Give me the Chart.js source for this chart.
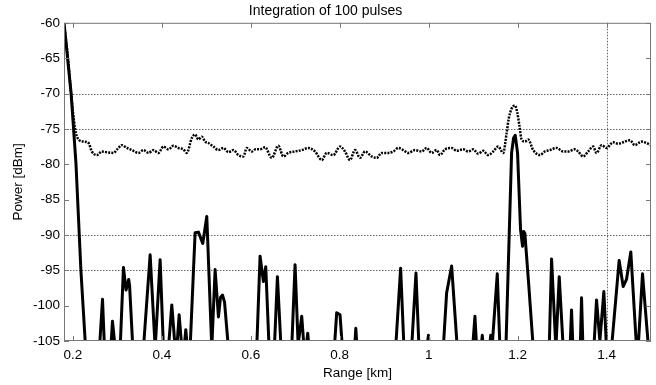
<!DOCTYPE html>
<html>
<head>
<meta charset="utf-8">
<script src="https://cdn.jsdelivr.net/npm/chart.js@4"></script>
<style>
  html, body { margin: 0; padding: 0; background: #fff; }
  #wrap { width: 656px; height: 385px; }
</style>
</head>
<body>
<div id="wrap"><canvas id="pulseChart"></canvas></div>
<script>
// single pulse (solid) - values below -105 run off the bottom of the plot
const pulseX = [0.18, 0.196, 0.207, 0.218, 0.2276, 0.232,
  0.2598, 0.2666, 0.271, 0.2854, 0.289, 0.295,
  0.3063, 0.3137, 0.3195, 0.3255, 0.3275, 0.3348,
  0.3587, 0.3737, 0.385, 0.3962, 0.4036,
  0.4149, 0.4224, 0.430, 0.4337, 0.4389, 0.445, 0.4501, 0.4539, 0.4575,
  0.4636, 0.4748, 0.4823, 0.492, 0.5011, 0.5123,
  0.5198, 0.5273, 0.532, 0.5365, 0.541, 0.5497,
  0.6134, 0.6209, 0.6284, 0.6337, 0.6412,
  0.6531, 0.6599, 0.6681,
  0.6921, 0.6996, 0.7065, 0.7146, 0.7198, 0.7243, 0.7281, 0.731,
  0.788, 0.7932, 0.8007, 0.806, 0.8335, 0.8362, 0.839,
  0.9258, 0.937, 0.9445, 0.9617, 0.9715, 0.9783, 0.996, 0.9995, 1.002,
  1.0329, 1.0404, 1.0517, 1.0644,
  1.0988, 1.1041, 1.108, 1.118, 1.1206, 1.123,
  1.137, 1.1395, 1.1425, 1.1543, 1.1603,
  1.1737, 1.1865, 1.1910, 1.1947, 1.1999, 1.2067, 1.2112, 1.2135, 1.2164, 1.225, 1.2352,
  1.2711, 1.2764, 1.2861, 1.2936, 1.3026,
  1.318, 1.3213, 1.3245, 1.341, 1.3438, 1.347,
  1.3715, 1.3775, 1.385, 1.394, 1.3999,
  1.4112, 1.4284, 1.4374, 1.4449, 1.4546, 1.4675,
  1.4711, 1.4809, 1.4944, 1.5];
const pulseY = [-60, -70, -80, -95, -105, -106.5,
  -106, -99.1, -106, -106, -102.2, -106,
  -106, -94.6, -97.8, -96.3, -97.2, -106,
  -106, -92.8, -106, -93.5, -106,
  -106, -99.9, -106, -106, -101.3, -106, -106, -103.4, -106,
  -106, -89.7, -89.6, -91.2, -87.4, -106,
  -94.9, -101.6, -98.8, -98.5, -99.5, -106,
  -106, -93.0, -96.6, -94.5, -106,
  -106, -95.9, -106,
  -106, -94.2, -105.5, -101.5, -106, -106, -103.9, -106,
  -106, -101.0, -101.3, -106, -106, -103.2, -106,
  -106, -94.7, -106, -106, -95.4, -106, -106, -104.2, -106,
  -106, -98.2, -94.4, -106,
  -106, -101.5, -106, -106, -104.2, -106,
  -106, -104.2, -106, -95.5, -106,
  -106, -78.4, -76.3, -75.9, -78.4, -89.3, -91.6, -89.5, -89.8, -97, -106,
  -106, -93.4, -106, -95.9, -106,
  -106, -100.6, -106, -106, -98.9, -106,
  -106, -99.2, -105, -98.0, -106,
  -106, -93.6, -97.3, -96.3, -92.4, -106,
  -106, -95.5, -106, -106];

// integration of 100 pulses (dotted)
const integX = [0.18, 0.189, 0.196, 0.205, 0.2126, 0.2238, 0.235, 0.2427, 0.254, 0.265,
  0.2764, 0.291, 0.3025, 0.310, 0.3213, 0.3326, 0.3474, 0.3587, 0.370, 0.381,
  0.3924, 0.4036, 0.4148, 0.426, 0.4373, 0.4485, 0.456, 0.4674, 0.4748, 0.4822,
  0.490, 0.4973, 0.5047, 0.516, 0.527, 0.5384, 0.5497, 0.561, 0.572, 0.5834,
  0.591, 0.6022, 0.611, 0.6207, 0.632, 0.6472, 0.662, 0.6733, 0.6845, 0.6996,
  0.7146, 0.7294, 0.7445, 0.7596, 0.7708, 0.7856, 0.8007, 0.8119, 0.8231, 0.8344,
  0.8456, 0.8569, 0.8719, 0.8831, 0.8944, 0.9092, 0.9204, 0.9317, 0.9429, 0.9542,
  0.9692, 0.9843, 0.9955, 1.0067, 1.018, 1.0254, 1.0367, 1.0517, 1.0629, 1.0778,
  1.089, 1.1002, 1.1115, 1.1227, 1.1339, 1.1452, 1.1564, 1.1676, 1.1753, 1.18,
  1.186, 1.194, 1.199, 1.204, 1.209, 1.2164, 1.2238, 1.2351, 1.2501, 1.2614,
  1.2726, 1.2876, 1.3025, 1.3137, 1.3288, 1.3362, 1.3474, 1.3586, 1.3699, 1.3775,
  1.3888, 1.4, 1.4148, 1.4261, 1.4373, 1.4524, 1.4636, 1.4787, 1.4899, 1.5];
const integY = [-60, -65, -70, -75, -76.5, -76.8, -77.0, -78.2, -78.7, -78.2,
  -78.3, -78.4, -77.7, -77.3, -77.7, -78.0, -78.4, -78.0, -78.4, -78.0,
  -78.4, -77.5, -77.9, -77.4, -77.7, -77.9, -78.4, -76.3, -75.8, -76.5,
  -76.1, -76.8, -77.0, -77.5, -78.0, -77.7, -78.3, -78.0, -78.7, -78.9,
  -77.7, -78.2, -77.9, -77.9, -77.6, -79.1, -77.4, -78.9, -78.4, -78.2,
  -78.0, -77.7, -78.2, -79.4, -78.4, -78.7, -77.5, -78.2, -79.4, -78.0,
  -79.1, -78.2, -78.9, -79.1, -78.4, -78.4, -78.2, -77.7, -78.0, -78.4,
  -78.0, -78.2, -77.7, -78.4, -78.0, -78.7, -77.9, -77.7, -78.1, -77.9,
  -78.2, -77.9, -78.5, -78.1, -78.7, -78.2, -77.5, -78.4, -75.6, -73.6,
  -72.2, -71.7, -72.6, -74.5, -76.5, -76.8, -76.5, -78.0, -78.7, -78.2,
  -78.0, -77.7, -78.2, -78.2, -77.9, -78.2, -78.9, -78.2, -77.5, -78.4,
  -77.3, -77.7, -76.9, -77.1, -76.9, -76.6, -77.3, -76.8, -77.0, -77.3];

const xTicks = [0.2, 0.4, 0.6, 0.8, 1.0, 1.2, 1.4];
const yTicks = [-105, -100, -95, -90, -85, -80, -75, -70, -65, -60];
const gridX = [1.4];
const gridY = [-95, -90, -75, -70];

const FONT = "'Liberation Sans', Arial, sans-serif";

// MATLAB style frame: box, inward ticks on all sides, a few dotted grid lines
const framePlugin = {
  id: "frame",
  beforeDatasetsDraw(chart) {
    const { ctx, chartArea: a, scales } = chart;
    ctx.save();
    ctx.strokeStyle = "#666";
    ctx.lineWidth = 1;
    ctx.setLineDash([1.5, 1.5]);
    gridY.forEach((v) => {
      const y = Math.round(scales.y.getPixelForValue(v)) + 0.5;
      ctx.beginPath();
      ctx.moveTo(a.left, y);
      ctx.lineTo(a.right, y);
      ctx.stroke();
    });
    gridX.forEach((v) => {
      const x = Math.round(scales.x.getPixelForValue(v)) + 0.5;
      ctx.beginPath();
      ctx.moveTo(x, a.top);
      ctx.lineTo(x, a.bottom);
      ctx.stroke();
    });
    ctx.restore();
  },
  afterDraw(chart) {
    const { ctx, chartArea: a, scales } = chart;
    const len = 5;
    ctx.save();
    ctx.strokeStyle = "#777";
    ctx.lineWidth = 1;
    ctx.strokeRect(a.left + 0.5, a.top + 0.5, a.right - a.left - 1, a.bottom - a.top - 1);
    ctx.beginPath();
    xTicks.forEach((v) => {
      const x = Math.round(scales.x.getPixelForValue(v)) + 0.5;
      ctx.moveTo(x, a.bottom);
      ctx.lineTo(x, a.bottom - len);
      ctx.moveTo(x, a.top);
      ctx.lineTo(x, a.top + len);
    });
    yTicks.forEach((v) => {
      const y = Math.round(scales.y.getPixelForValue(v)) + 0.5;
      ctx.moveTo(a.left, y);
      ctx.lineTo(a.left + len, y);
      ctx.moveTo(a.right, y);
      ctx.lineTo(a.right - len, y);
    });
    ctx.stroke();
    ctx.restore();
  },
};

new Chart(document.getElementById("pulseChart"), {
  type: "line",
  data: {
    datasets: [
      {
        label: "Integration",
        data: integX.map((x, i) => ({ x: x, y: integY[i] })),
        borderColor: "#000",
        borderWidth: 2.5,
        borderDash: [2, 1.2],
        pointRadius: 0,
        cubicInterpolationMode: "monotone",
        fill: false,
      },
      {
        label: "Single pulse",
        data: pulseX.map((x, i) => ({ x: x, y: pulseY[i] })),
        borderColor: "#000",
        borderWidth: 3,
        borderJoinStyle: "round",
        pointRadius: 0,
        tension: 0,
        fill: false,
      },
    ],
  },
  options: {
    responsive: true,
    maintainAspectRatio: false,
    animation: false,
    layout: { padding: { top: 0, right: 5, left: 0, bottom: 0 } },
    plugins: {
      legend: { display: false },
      tooltip: { enabled: false },
      title: {
        display: true,
        text: "Integration of 100 pulses",
        color: "#000",
        font: { family: FONT, size: 14, weight: "normal" },
        padding: { top: 3, bottom: 3 },
      },
    },
    scales: {
      x: {
        type: "linear",
        min: 0.18,
        max: 1.5,
        afterBuildTicks: (s) => { s.ticks = xTicks.map((v) => ({ value: v })); },
        afterFit: (s) => { s.height = 44; },
        grid: { display: false, drawTicks: false },
        border: { display: false },
        ticks: {
          color: "#000",
          padding: 6,
          maxRotation: 0,
          autoSkip: false,
          font: { family: FONT, size: 13.5 },
          callback: (v) => String(Math.round(v * 10) / 10),
        },
        title: {
          display: true,
          text: "Range [km]",
          color: "#000",
          font: { family: FONT, size: 13.5 },
          padding: { top: 0, bottom: 4 },
        },
      },
      y: {
        type: "linear",
        min: -105,
        max: -60,
        afterBuildTicks: (s) => { s.ticks = yTicks.map((v) => ({ value: v })); },
        afterFit: (s) => { s.width = 64; },
        grid: { display: false, drawTicks: false },
        border: { display: false },
        ticks: {
          color: "#000",
          padding: 4,
          autoSkip: false,
          font: { family: FONT, size: 13.5 },
        },
        title: {
          display: true,
          text: "Power [dBm]",
          color: "#000",
          font: { family: FONT, size: 13.5 },
          padding: { top: 10, bottom: 0 },
        },
      },
    },
  },
  plugins: [framePlugin],
});
</script>
</body>
</html>
